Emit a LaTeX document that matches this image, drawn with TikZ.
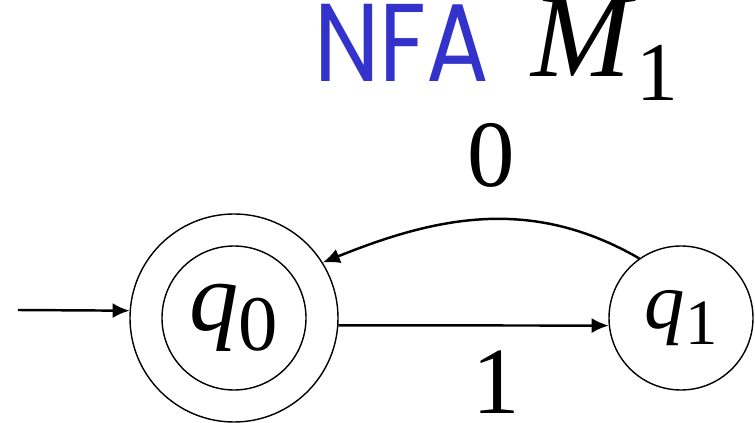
\documentclass[tikz,border=0pt]{standalone}
\usepackage{fontspec}
\setmainfont{Liberation Serif}
\usetikzlibrary{arrows.meta}
\definecolor{nfablue}{RGB}{51,51,204}
\newcommand{\stname}[3][0.8]{\textit{#2}\raisebox{-0.2em}{\scalebox{#1}{#3}}}

\begin{document}
\begin{tikzpicture}[
  state/.style={circle,draw,line width=0.8pt,inner sep=0pt},
  trans/.style={-{Latex[length=0.34cm,width=0.3cm]},line width=1.4pt},
  lbl/.style={font=\fontsize{54}{60}\selectfont,inner sep=2pt}]
\useasboundingbox (0,0) rectangle (15.1,8.46);
% title
\node[anchor=base west,inner sep=2pt,text=nfablue,xscale=0.84,transform shape,font=\fontspec{Poppins}\fontsize{63}{70}\selectfont] (nfa) at (6.22,6.82) {NFA};
\node[anchor=base west,inner sep=2pt,font=\fontsize{68}{76}\selectfont] (name) at (10.56,6.92) {\stname[0.7]{M}{1}};
% states
\node[state,minimum size=4.16cm] (q0) at (4.68,2.10) {};
\node[state,minimum size=2.88cm,font=\fontsize{56}{64}\selectfont] (q0in) at (q0) {\stname{q}{0}};
\node[state,minimum size=2.88cm,font=\fontsize{46}{52}\selectfont] (q1) at (13.62,2.10) {\stname{q}{1}};
% transitions
\coordinate (start) at (0.36,2.26);
\draw[trans] (start) -- (q0.176);
\draw[trans] (q0.-4) -- node[lbl,below=0.41cm,xshift=0.46cm] {1} (q1.186);
\draw[trans] (q1.125) to[out=150,in=22] node[lbl,above=0.55cm,xshift=0.14cm] {0} (q0.32);
\end{tikzpicture}
\end{document}
